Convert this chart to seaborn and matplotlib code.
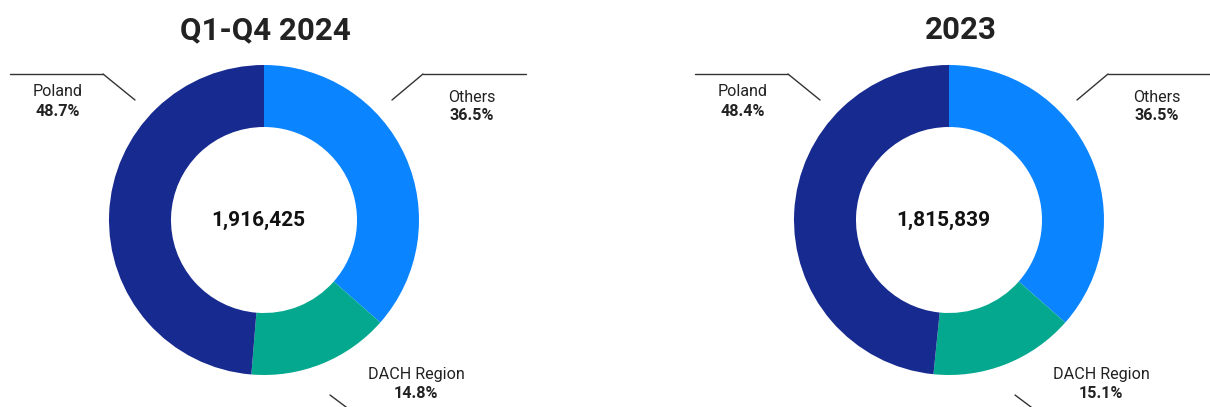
import matplotlib.pyplot as plt
import seaborn as sns

regions = ["Others", "DACH Region", "Poland"]
share_2024 = [36.5, 14.8, 48.7]
share_2023 = [36.5, 15.1, 48.4]
totals = [1916425, 1815839]
titles = ["Q1-Q4 2024", "2023"]
colors = ["#0a84ff", "#03a88e", "#172a8f"]

sns.set_theme(style="white")
plt.rcParams["font.family"] = ["Roboto", "DejaVu Sans"]

W, H = 1210, 407
fig = plt.figure(figsize=(W / 100, H / 100), dpi=100)

# donut centres / radius in pixels
centers = [(264, 220), (949, 220)]
R, R_IN = 155, 93

for i, shares in enumerate([share_2024, share_2023]):
    cx, cy = centers[i]
    ax = fig.add_axes([(cx - R) / W, 1 - (cy + R) / H, 2 * R / W, 2 * R / H])
    ax.pie(shares, colors=colors, startangle=90, counterclock=False, radius=1,
           wedgeprops=dict(width=(R - R_IN) / R, linewidth=0))
    ax.set_xlim(-1, 1)
    ax.set_ylim(-1, 1)
    ax.axis("off")

# overlay for labels / leader lines, in pixel coords
ov = fig.add_axes([0, 0, 1, 1], zorder=5)
ov.set_xlim(0, W)
ov.set_ylim(H, 0)
ov.axis("off")
ov.patch.set_alpha(0)

title_x = [265, 961]
lbl = dict(ha="center", va="center", fontsize=11.6, color="#222222")
for i, shares in enumerate([share_2024, share_2023]):
    cx, cy = centers[i]
    ov.text(title_x[i], 30, titles[i], ha="center", va="center", fontsize=22.5, fontweight="bold", color="#222222")
    ov.text(cx - 6, cy, f"{totals[i]:,}", ha="center", va="center", fontsize=15, fontweight="bold", color="#111111")

    dx = cx - 264
    # Poland (top-left)
    ov.plot([10 + dx, 103 + dx], [74, 74], color="#333333", lw=1)
    ov.plot([103 + dx, 135 + dx], [74, 100], color="#333333", lw=1)
    ov.text(58 + dx, 92, regions[2], **lbl)
    ov.text(58 + dx, 111, f"{shares[2]}%", fontweight="bold", **lbl)
    # Others (top-right)
    ov.plot([392 + dx, 423 + dx], [100, 74], color="#333333", lw=1)
    ov.plot([423 + dx, 526 + dx], [74, 74], color="#333333", lw=1)
    ov.text(472 + dx, 97, regions[0], **lbl)
    ov.text(472 + dx, 116, f"{shares[0]}%", fontweight="bold", **lbl)
    # DACH (bottom-right)
    ov.plot([330 + dx, 350 + dx], [395, 410], color="#333333", lw=1)
    ov.text(416 + dx, 374, regions[1], **lbl)
    ov.text(416 + dx, 393, f"{shares[1]}%", fontweight="bold", **lbl)

fig.savefig("out.png", dpi=100)
